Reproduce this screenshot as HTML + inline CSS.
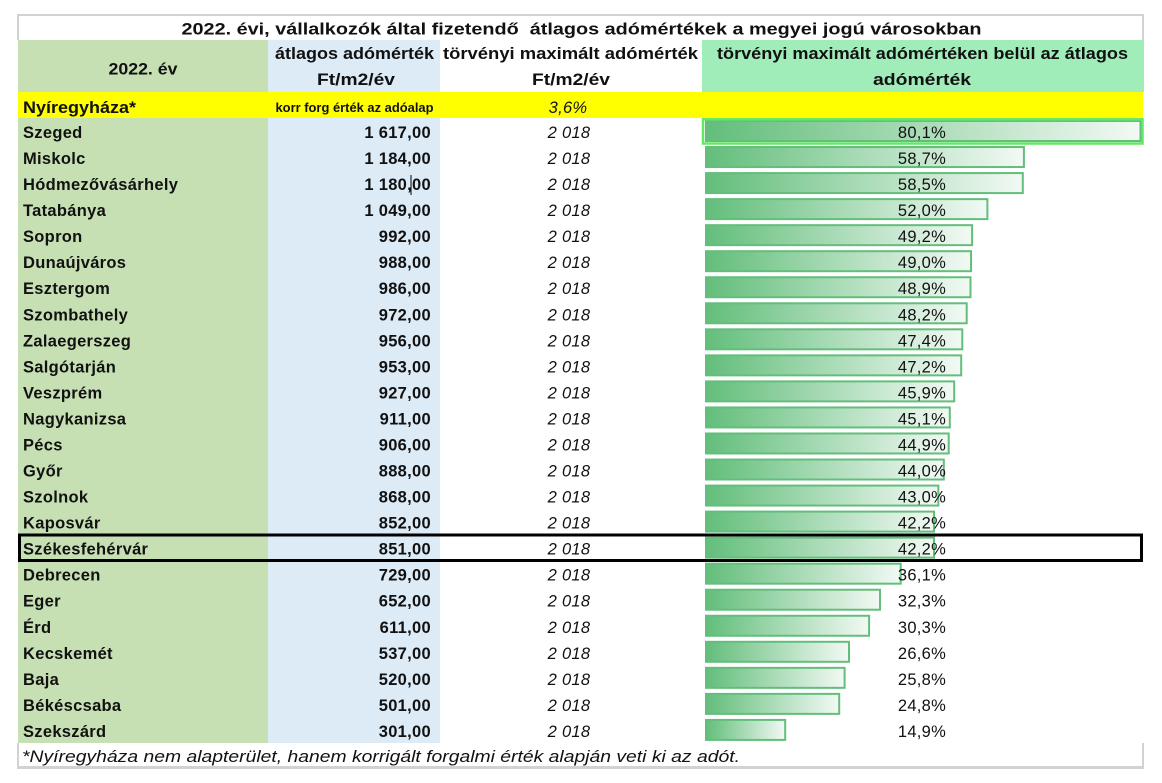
<!DOCTYPE html>
<html>
<head>
<meta charset="utf-8">
<style>
html,body{margin:0;padding:0;background:#fff;}
svg{display:block;}
text{font-family:"Liberation Sans",Arial,sans-serif;fill:#111;}
.b{font-weight:bold;font-size:16.5px;}
.n{font-weight:bold;font-size:16.5px;letter-spacing:0.3px;}
.v{font-weight:bold;font-size:16.5px;letter-spacing:0.3px;text-anchor:end;}
.t{font-style:italic;font-size:16.5px;letter-spacing:0.3px;text-anchor:middle;}
.p{font-size:16.5px;letter-spacing:0.3px;text-anchor:middle;}
.m{text-anchor:middle;}
.bar{fill:url(#g);stroke:#63BE7B;stroke-width:2;}
</style>
</head>
<body>
<svg width="1162" height="783" viewBox="0 0 1162 783" xmlns="http://www.w3.org/2000/svg">
<defs>
<linearGradient id="g" x1="0" y1="0" x2="1" y2="0">
<stop offset="0" stop-color="#63BE7B"/>
<stop offset="1" stop-color="#F2F9F4"/>
</linearGradient>
</defs>
<rect x="0" y="0" width="1162" height="783" fill="#fff"/>

<!-- column backgrounds -->
<rect x="18" y="40" width="250" height="703" fill="#C6E0B4"/>
<rect x="268" y="40" width="172" height="703" fill="#DDEBF7"/>
<rect x="702" y="40" width="442" height="52" fill="#A0EDB9"/>
<rect x="18" y="92" width="1125" height="26" fill="#FFFF00"/>

<!-- gray borders -->
<rect x="17" y="14" width="1127" height="2" fill="#D2D2D2"/>
<rect x="17" y="14" width="2" height="26" fill="#D2D2D2"/>
<rect x="1142" y="14" width="2" height="26" fill="#D2D2D2"/>
<rect x="17" y="743" width="2" height="26" fill="#D2D2D2"/>
<rect x="1142" y="743" width="2" height="26" fill="#D2D2D2"/>
<rect x="17" y="766" width="1127" height="3" fill="#D2D2D2"/>

<!-- title -->
<text class="b" x="181.5" y="34.5" font-size="17" textLength="800" lengthAdjust="spacingAndGlyphs" style="white-space:pre">2022. évi, vállalkozók által fizetendő  átlagos adómértékek a megyei jogú városokban</text>

<!-- headers -->
<text class="b m" x="143" y="74.7" textLength="69" lengthAdjust="spacingAndGlyphs">2022. év</text>
<text class="b m" x="354.5" y="59" textLength="159" lengthAdjust="spacingAndGlyphs">átlagos adómérték</text>
<text class="b m" x="356" y="85" textLength="78" lengthAdjust="spacingAndGlyphs">Ft/m2/év</text>
<text class="b m" x="570.5" y="59" textLength="255" lengthAdjust="spacingAndGlyphs">törvényi maximált adómérték</text>
<text class="b m" x="571" y="85" textLength="78" lengthAdjust="spacingAndGlyphs">Ft/m2/év</text>
<text class="b m" x="922.5" y="59" textLength="411" lengthAdjust="spacingAndGlyphs">törvényi maximált adómértéken belül az átlagos</text>
<text class="b m" x="922" y="85" textLength="98" lengthAdjust="spacingAndGlyphs">adómérték</text>

<!-- yellow row -->
<text class="b" x="23" y="113" textLength="113" lengthAdjust="spacingAndGlyphs">Nyíregyháza*</text>
<text class="m" x="354.5" y="112" font-size="12.5" font-weight="bold" textLength="158" lengthAdjust="spacingAndGlyphs">korr forg érték az adóalap</text>
<text class="t" x="568" y="113">3,6%</text>

<!-- bars -->
<rect class="bar" x="706" y="121" width="434.5" height="20"/>
<rect class="bar" x="706" y="147.04" width="317.9" height="20"/>
<rect class="bar" x="706" y="173.08" width="316.8" height="20"/>
<rect class="bar" x="706" y="199.12" width="281.4" height="20"/>
<rect class="bar" x="706" y="225.16" width="266.1" height="20"/>
<rect class="bar" x="706" y="251.2" width="265.05" height="20"/>
<rect class="bar" x="706" y="277.24" width="264.5" height="20"/>
<rect class="bar" x="706" y="303.28" width="260.7" height="20"/>
<rect class="bar" x="706" y="329.32" width="256.3" height="20"/>
<rect class="bar" x="706" y="355.36" width="255.2" height="20"/>
<rect class="bar" x="706" y="381.4" width="248.2" height="20"/>
<rect class="bar" x="706" y="407.44" width="243.8" height="20"/>
<rect class="bar" x="706" y="433.48" width="242.7" height="20"/>
<rect class="bar" x="706" y="459.52" width="237.8" height="20"/>
<rect class="bar" x="706" y="485.56" width="232.35" height="20"/>
<rect class="bar" x="706" y="511.6" width="228" height="20"/>
<rect class="bar" x="706" y="537.64" width="228" height="20"/>
<rect class="bar" x="706" y="563.68" width="194.7" height="20"/>
<rect class="bar" x="706" y="589.72" width="174" height="20"/>
<rect class="bar" x="706" y="615.76" width="163.1" height="20"/>
<rect class="bar" x="706" y="641.8" width="143" height="20"/>
<rect class="bar" x="706" y="667.84" width="138.6" height="20"/>
<rect class="bar" x="706" y="693.88" width="133.2" height="20"/>
<rect class="bar" x="706" y="719.92" width="79.2" height="20"/>

<!-- selection box around Szeged bar cell -->
<rect x="703" y="119.3" width="439.5" height="24.2" fill="none" stroke="#62E862" stroke-width="2.5"/>

<!-- names -->
<text class="n" x="23" y="138">Szeged</text>
<text class="n" x="23" y="164.04">Miskolc</text>
<text class="n" x="23" y="190.08">Hódmezővásárhely</text>
<text class="n" x="23" y="216.12">Tatabánya</text>
<text class="n" x="23" y="242.16">Sopron</text>
<text class="n" x="23" y="268.2">Dunaújváros</text>
<text class="n" x="23" y="294.24">Esztergom</text>
<text class="n" x="23" y="320.28">Szombathely</text>
<text class="n" x="23" y="346.32">Zalaegerszeg</text>
<text class="n" x="23" y="372.36">Salgótarján</text>
<text class="n" x="23" y="398.4">Veszprém</text>
<text class="n" x="23" y="424.44">Nagykanizsa</text>
<text class="n" x="23" y="450.48">Pécs</text>
<text class="n" x="23" y="476.52">Győr</text>
<text class="n" x="23" y="502.56">Szolnok</text>
<text class="n" x="23" y="528.6">Kaposvár</text>
<text class="n" x="23" y="554.64">Székesfehérvár</text>
<text class="n" x="23" y="580.68">Debrecen</text>
<text class="n" x="23" y="606.72">Eger</text>
<text class="n" x="23" y="632.76">Érd</text>
<text class="n" x="23" y="658.8">Kecskemét</text>
<text class="n" x="23" y="684.84">Baja</text>
<text class="n" x="23" y="710.88">Békéscsaba</text>
<text class="n" x="23" y="736.92">Szekszárd</text>

<!-- values -->
<text class="v" x="431" y="138">1 617,00</text>
<text class="v" x="431" y="164.04">1 184,00</text>
<text class="v" x="431" y="190.08">1 180,00</text>
<text class="v" x="431" y="216.12">1 049,00</text>
<text class="v" x="431" y="242.16">992,00</text>
<text class="v" x="431" y="268.2">988,00</text>
<text class="v" x="431" y="294.24">986,00</text>
<text class="v" x="431" y="320.28">972,00</text>
<text class="v" x="431" y="346.32">956,00</text>
<text class="v" x="431" y="372.36">953,00</text>
<text class="v" x="431" y="398.4">927,00</text>
<text class="v" x="431" y="424.44">911,00</text>
<text class="v" x="431" y="450.48">906,00</text>
<text class="v" x="431" y="476.52">888,00</text>
<text class="v" x="431" y="502.56">868,00</text>
<text class="v" x="431" y="528.6">852,00</text>
<text class="v" x="431" y="554.64">851,00</text>
<text class="v" x="431" y="580.68">729,00</text>
<text class="v" x="431" y="606.72">652,00</text>
<text class="v" x="431" y="632.76">611,00</text>
<text class="v" x="431" y="658.8">537,00</text>
<text class="v" x="431" y="684.84">520,00</text>
<text class="v" x="431" y="710.88">501,00</text>
<text class="v" x="431" y="736.92">301,00</text>
<rect x="410.5" y="175" width="1" height="20" fill="#000"/>

<!-- max values -->
<text class="t" x="569" y="138">2 018</text>
<text class="t" x="569" y="164.04">2 018</text>
<text class="t" x="569" y="190.08">2 018</text>
<text class="t" x="569" y="216.12">2 018</text>
<text class="t" x="569" y="242.16">2 018</text>
<text class="t" x="569" y="268.2">2 018</text>
<text class="t" x="569" y="294.24">2 018</text>
<text class="t" x="569" y="320.28">2 018</text>
<text class="t" x="569" y="346.32">2 018</text>
<text class="t" x="569" y="372.36">2 018</text>
<text class="t" x="569" y="398.4">2 018</text>
<text class="t" x="569" y="424.44">2 018</text>
<text class="t" x="569" y="450.48">2 018</text>
<text class="t" x="569" y="476.52">2 018</text>
<text class="t" x="569" y="502.56">2 018</text>
<text class="t" x="569" y="528.6">2 018</text>
<text class="t" x="569" y="554.64">2 018</text>
<text class="t" x="569" y="580.68">2 018</text>
<text class="t" x="569" y="606.72">2 018</text>
<text class="t" x="569" y="632.76">2 018</text>
<text class="t" x="569" y="658.8">2 018</text>
<text class="t" x="569" y="684.84">2 018</text>
<text class="t" x="569" y="710.88">2 018</text>
<text class="t" x="569" y="736.92">2 018</text>

<!-- percentages -->
<text class="p" x="922" y="138">80,1%</text>
<text class="p" x="922" y="164.04">58,7%</text>
<text class="p" x="922" y="190.08">58,5%</text>
<text class="p" x="922" y="216.12">52,0%</text>
<text class="p" x="922" y="242.16">49,2%</text>
<text class="p" x="922" y="268.2">49,0%</text>
<text class="p" x="922" y="294.24">48,9%</text>
<text class="p" x="922" y="320.28">48,2%</text>
<text class="p" x="922" y="346.32">47,4%</text>
<text class="p" x="922" y="372.36">47,2%</text>
<text class="p" x="922" y="398.4">45,9%</text>
<text class="p" x="922" y="424.44">45,1%</text>
<text class="p" x="922" y="450.48">44,9%</text>
<text class="p" x="922" y="476.52">44,0%</text>
<text class="p" x="922" y="502.56">43,0%</text>
<text class="p" x="922" y="528.6">42,2%</text>
<text class="p" x="922" y="554.64">42,2%</text>
<text class="p" x="922" y="580.68">36,1%</text>
<text class="p" x="922" y="606.72">32,3%</text>
<text class="p" x="922" y="632.76">30,3%</text>
<text class="p" x="922" y="658.8">26,6%</text>
<text class="p" x="922" y="684.84">25,8%</text>
<text class="p" x="922" y="710.88">24,8%</text>
<text class="p" x="922" y="736.92">14,9%</text>

<!-- Székesfehérvár highlight box -->
<rect x="19.5" y="535" width="1122" height="25.5" fill="none" stroke="#000" stroke-width="3"/>

<!-- footnote -->
<text x="22" y="762" font-size="16.5" font-style="italic" textLength="718" lengthAdjust="spacingAndGlyphs">*Nyíregyháza nem alapterület, hanem korrigált forgalmi érték alapján veti ki az adót.</text>
</svg>
</body>
</html>
